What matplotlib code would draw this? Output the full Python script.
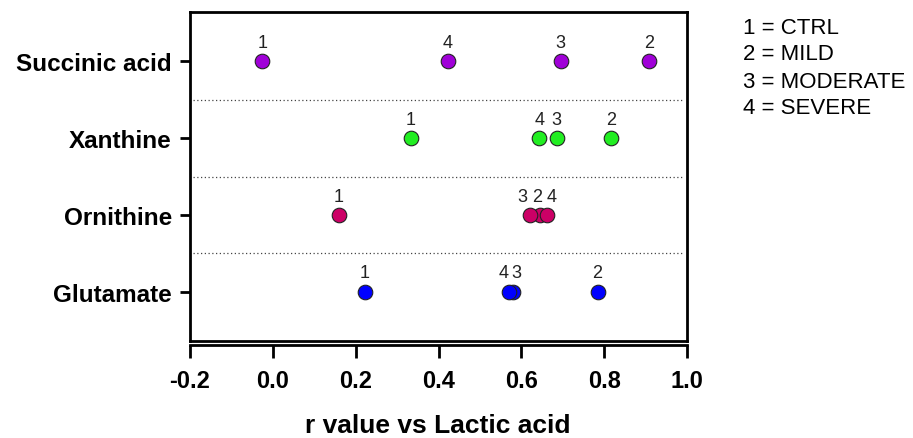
import matplotlib.pyplot as plt
import numpy as np

plt.rcParams['font.family'] = ['Liberation Sans', 'DejaVu Sans']

metabolites = ["Glutamate", "Ornithine", "Xanthine", "Succinic acid"]
colors = ["#0000ff", "#cc0066", "#22ee22", "#a000d8"]
groups = ["1", "2", "3", "4"]
group_names = ["CTRL", "MILD", "MODERATE", "SEVERE"]

# r values in group order 1..4 (CTRL, MILD, MODERATE, SEVERE)
glutamate = [0.222, 0.784, 0.579, 0.571]
ornithine = [0.160, 0.645, 0.622, 0.663]
xanthine = [0.333, 0.816, 0.685, 0.643]
succinic = [-0.025, 0.908, 0.695, 0.422]
r_values = [glutamate, ornithine, xanthine, succinic]

# horizontal nudges (points) for crowded number labels
nudges = [[0, 0, 3, -4], [0, -2, -6, 3], [0, 0, 0, 0], [0, 0, 0, 0]]

fig = plt.figure(figsize=(9.13, 4.39), dpi=100)
ax = fig.add_axes([190 / 913, 1 - 342 / 439, 497 / 913, 329 / 439])

# offset bottom axis line below the frame
ax.spines["bottom"].set_position(("outward", 3))

for i, vals in enumerate(r_values):
    y = np.full(len(vals), i)
    ax.scatter(vals, y, s=110, color=colors[i], edgecolor="#222222",
               linewidth=0.8, zorder=3)
    for g, v, dx in zip(groups, vals, nudges[i]):
        ax.annotate(g, (v, i), xytext=(dx, 7.5), textcoords="offset points",
                    ha="center", va="bottom", fontsize=13, color="#222222")

for yl in [0.5, 1.5, 2.5]:
    ax.axhline(yl, color="#444444", linestyle=(0, (1, 2)), linewidth=0.9,
               xmin=0.006, xmax=0.994)

ax.set_xlim(-0.2, 1.0)
ax.set_ylim(-0.64, 3.64)
ax.set_yticks(range(len(metabolites)))
ax.set_yticklabels(metabolites)
ticks = np.arange(-0.2, 1.01, 0.2)
ax.set_xticks(ticks)
ax.set_xticklabels([f"{t:.1f}" for t in ticks])

for s in ax.spines.values():
    s.set_linewidth(2)
ax.tick_params(axis="y", width=2, length=7, pad=6, labelsize=17.5)
ax.tick_params(axis="x", width=2, length=9, pad=8, labelsize=17)
for lab in ax.get_xticklabels() + ax.get_yticklabels():
    lab.set_fontweight("bold")

ax.plot([0, 1], [0, 0], transform=ax.transAxes, color="black", lw=2,
        clip_on=False, zorder=4)

fig.text(438 / 913, 1 - 426 / 439, "r value vs Lactic acid", fontsize=19,
         fontweight="bold", ha="center", va="center")

for k, (g, name) in enumerate(zip(groups, group_names)):
    fig.text(743 / 913, 1 - (28 + k * 27) / 439, f"{g} = {name}",
             fontsize=16, va="center", ha="left")

fig.savefig("out.png", dpi=100)
